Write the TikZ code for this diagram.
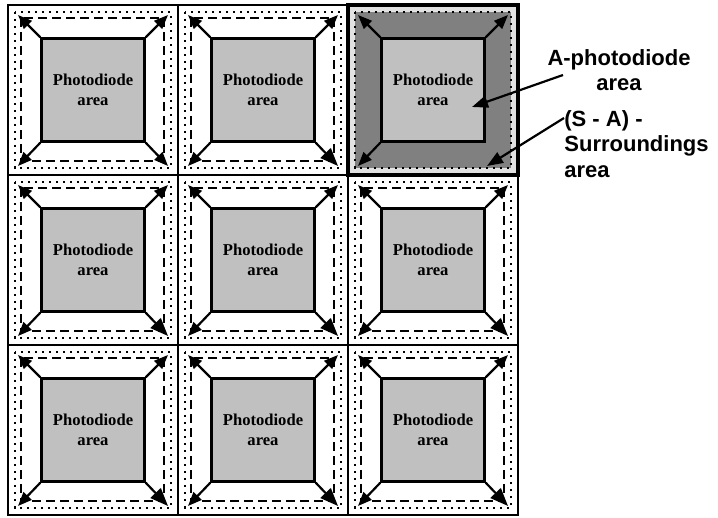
\documentclass[tikz,border=0pt]{standalone}
\usepackage{fontspec}
\setmainfont{Liberation Serif}
\setsansfont{Liberation Sans}
\usetikzlibrary{arrows.meta}
\definecolor{pdgray}{HTML}{C0C0C0}
\definecolor{surrgray}{HTML}{808080}
\definecolor{edgegray}{HTML}{E2E2E2}
\begin{document}
\begin{tikzpicture}[
	x=0.5pt, y=-0.5pt,
	>={Triangle[length=7pt, width=5.5pt]},
	grid line/.style={line width=1.2pt},
	dot line/.style={line width=1.3pt, dash pattern=on 1.2pt off 2.3pt},
	dash line/.style={line width=1.2pt, dash pattern=on 4.5pt off 2.5pt},
	pd node/.style={draw, line width=1.2pt, fill=pdgray, minimum size=51.5pt, inner sep=0pt, align=center, font=\bfseries\fontsize{8.3}{10}\selectfont},
	corner arrow/.style={->, line width=1.1pt},
	big arrow/.style={-{Triangle[length=9pt, width=7pt]}, line width=1.1pt},
	label node/.style={font=\sffamily\bfseries\fontsize{11}{12.8}\selectfont, inner sep=0pt},
	label arrow/.style={-{Triangle[length=8pt, width=6pt]}, line width=1.1pt}
	]
	\useasboundingbox (0,0) rectangle (718,518);
	\newcommand{\drawcell}[4]{
		\begin{scope}[shift={(#2,#3)}]
			\draw[dot line] (7,7) rectangle (163,163);
			\draw[dash line] (13,13) rectangle (156,156);
			\node[pd node] (#1) at (85,85) {Photodiode\\area};
			\coordinate (#1-tl) at (10,10);
			\coordinate (#1-tr) at (160,10);
			\coordinate (#1-bl) at (10,161);
			\coordinate (#1-br) at (160,161);
			\draw[corner arrow] (#1.north west) -- (#1-tl);
			\draw[corner arrow] (#1.north east) -- (#1-tr);
			\draw[corner arrow] (#1.south west) -- (#1-bl);
			\draw[#4] (#1.south east) -- (#1-br);
		\end{scope}
	}
	\drawcell{c11}{8}{5}{corner arrow}
	\drawcell{c12}{178}{5}{big arrow}
	\drawcell{c21}{8}{175}{big arrow}
	\drawcell{c22}{178}{175}{big arrow}
	\drawcell{c23}{348}{175}{big arrow}
	\drawcell{c31}{8}{345}{big arrow}
	\drawcell{c32}{178}{345}{big arrow}
	\drawcell{c33}{348}{345}{big arrow}
	% the marked pixel
	\begin{scope}[shift={(348,5)}]
		\fill[edgegray] (0,0) rectangle (170,170);
		\filldraw[fill=surrgray, dot line] (7,7) rectangle (163,163);
		\node[pd node] (c13) at (85,85) {Photodiode\\area};
		\coordinate (c13-tl) at (10,10);
		\coordinate (c13-tr) at (160,10);
		\coordinate (c13-bl) at (10,161);
		\draw[corner arrow] (c13.north west) -- (c13-tl);
		\draw[corner arrow] (c13.north east) -- (c13-tr);
		\draw[corner arrow] (c13.south west) -- (c13-bl);
	\end{scope}
	\draw[grid line] (8,5) rectangle (518,515);
	\draw[grid line] (178,5) -- (178,515) (348,5) -- (348,515);
	\draw[grid line] (8,175) -- (518,175) (8,345) -- (518,345);
	\draw[line width=1.6pt] (348,5) rectangle (518,175);
	% labels
	\node[label node, align=center] (lblA) at (619,70) {A-photodiode\\area};
	\node[label node, align=left, anchor=north west] (lblS) at (564,110) {(S - A) -\\Surroundings\\area};
	\coordinate (startA) at (563,75);
	\coordinate (tipA) at (472,107);
	\coordinate (tipS) at (487,166);
	\draw[label arrow] (startA) -- (tipA);
	\draw[label arrow] (lblS.north west |- 0,118) -- (tipS);
\end{tikzpicture}
\end{document}
